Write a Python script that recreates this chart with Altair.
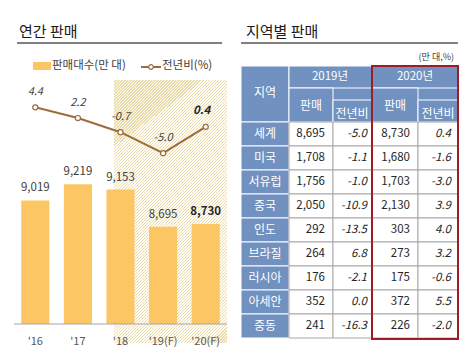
import altair as alt
import pandas as pd

# ---------------- data ----------------
years = ["'16", "'17", "'18", "'19(F)", "'20(F)"]
sales = [9019, 9219, 9153, 8695, 8730]
growth = [4.4, 2.2, -0.7, -5.0, 0.4]

regions = ["세계", "미국", "서유럽", "중국", "인도", "브라질", "러시아", "아세안", "중동"]
sales_2019 = [8695, 1708, 1756, 2050, 292, 264, 176, 352, 241]
yoy_2019 = [-5.0, -1.1, -1.0, -10.9, -13.5, 6.8, -2.1, 0.0, -16.3]
sales_2020 = [8730, 1680, 1703, 2130, 303, 273, 175, 372, 226]
yoy_2020 = [0.4, -1.6, -3.0, 3.9, 4.0, 3.2, -0.6, 5.5, -2.0]

# ---------------- style ----------------
FONT = "Noto Sans CJK KR"
BAR = "#fdc664"
LINE = "#9c6c3a"
BLUE = "#7191c0"
RED = "#9e1c26"
GRID = "#a9a9a9"
TXT = "#404040"

one = pd.DataFrame({"k": [0]})
bdf = pd.DataFrame({"year": years, "sales": sales, "growth": growth})
tdf = pd.DataFrame({"region": regions, "s19": sales_2019, "y19": yoy_2019,
                    "s20": sales_2020, "y20": yoy_2020})

xs = alt.Scale(domain=years, range=[14, 227], paddingInner=0.34, paddingOuter=0.17)
ys = alt.Scale(domain=[7500, 10500], range=[324, 80], zero=False, nice=False)
gs = alt.Scale(domain=[-40, 10], range=[324, 80], zero=False, nice=False)
ts = alt.Scale(domain=regions, range=[122, 338], paddingInner=0, paddingOuter=0)


def hy(expr):
    # d3-format uses U+2212 for minus; the reference uses a plain hyphen
    return f"replace({expr}, '\u2212', '-')"


def txt(s, x, y, size=11, color=TXT, align="left", weight="normal", style="normal"):
    return alt.Chart(pd.DataFrame({"t": [s]})).mark_text(
        align=align, baseline="middle", fontSize=size, font=FONT, color=color,
        fontWeight=weight, fontStyle=style
    ).encode(text="t:N", x=alt.value(x), y=alt.value(y))


def box(x, y, x2, y2, fill, stroke=None, sw=1.0, fo=1.0):
    kw = dict(fill=fill, fillOpacity=fo)
    if stroke:
        kw.update(stroke=stroke, strokeWidth=sw)
    return alt.Chart(one).mark_rect(**kw).encode(
        x=alt.value(x), x2=alt.value(x2), y=alt.value(y), y2=alt.value(y2))


def hrule(x, x2, y, color, sw):
    return alt.Chart(one).mark_rule(color=color, strokeWidth=sw).encode(
        x=alt.value(x), x2=alt.value(x2), y=alt.value(y))


# hatch gradient (fine diagonal stripes)
N = 125
BG_H = "#fffdf7"
LN_H = "#ebdcae"
stops = []
for i in range(N):
    a = i / N
    b = (i + 0.6) / N
    c = (i + 1) / N
    stops += [alt.GradientStop(offset=a, color=BG_H),
              alt.GradientStop(offset=b, color=BG_H),
              alt.GradientStop(offset=b, color=LN_H),
              alt.GradientStop(offset=c, color=LN_H)]
hatch_fill = alt.LinearGradient(gradient="linear", stops=stops,
                                x1=0, y1=0, x2=0.519, y2=1.207)

layers = []

# ---------- left: annual sales ----------
layers.append(txt("연간 판매", 19, 32, size=15, color="#1a1a1a"))
layers.append(hrule(17, 222, 43, "#808080", 2))
layers.append(box(33, 62, 51, 70, BAR))
layers.append(txt("판매대수(만 대)", 52, 66, size=11.5))
layers.append(hrule(141, 161, 67, LINE, 2))
layers.append(alt.Chart(one).mark_point(shape="circle", filled=True, fill="white",
                                        stroke=LINE, strokeWidth=1.2, size=22, opacity=1)
              .encode(x=alt.value(151), y=alt.value(67)))
layers.append(txt("전년비(%)", 162, 66, size=11.5))

layers.append(alt.Chart(one).mark_rect(fill=hatch_fill).encode(
    x=alt.value(114), x2=alt.value(227), y=alt.value(80), y2=alt.value(343)))

bx = alt.X("year:N", scale=xs, axis=None, sort=years)
layers.append(alt.Chart(bdf).mark_bar(color=BAR).encode(
    x=bx, y=alt.Y("sales:Q", scale=ys, axis=None), y2=alt.datum(7500)))
layers.append(hrule(14, 227, 324, "#a6a6a6", 1))

layers.append(alt.Chart(bdf).transform_filter("datum.year != \"'20(F)\"").mark_text(
    baseline="middle", fontSize=11.5, font=FONT, color=TXT, dy=-12).encode(
    x=bx, y=alt.Y("sales:Q", scale=ys, axis=None), text=alt.Text("sales:Q", format=",")))
layers.append(alt.Chart(bdf).transform_filter("datum.year == \"'20(F)\"").mark_text(
    baseline="middle", fontSize=11.5, font=FONT, color="#262626", fontWeight="bold", dy=-12).encode(
    x=bx, y=alt.Y("sales:Q", scale=ys, axis=None), text=alt.Text("sales:Q", format=",")))

layers.append(alt.Chart(bdf).mark_text(baseline="middle", fontSize=11, font=FONT,
                                       color="#595959").encode(
    x=bx, y=alt.value(342), text="year:N"))

layers.append(alt.Chart(bdf).mark_line(color=LINE, strokeWidth=2).encode(
    x=bx, y=alt.Y("growth:Q", scale=gs, axis=None)))
layers.append(alt.Chart(bdf).mark_point(shape="circle", filled=True, fill="white",
                                        stroke=LINE, strokeWidth=1.2, size=26, opacity=1).encode(
    x=bx, y=alt.Y("growth:Q", scale=gs, axis=None)))
gl = alt.Chart(bdf).transform_calculate(lbl=hy("format(datum.growth, '.1f')"))
layers.append(gl.transform_filter("datum.year != \"'20(F)\"").mark_text(
    baseline="middle", fontSize=11, font=FONT, color=TXT, fontStyle="italic", dy=-15).encode(
    x=bx, y=alt.Y("growth:Q", scale=gs, axis=None), text="lbl:N"))
layers.append(gl.transform_filter("datum.year == \"'20(F)\"").mark_text(
    baseline="middle", fontSize=11.5, font=FONT, color="#262626", fontStyle="italic",
    fontWeight="bold", dy=-16, dx=-4).encode(
    x=bx, y=alt.Y("growth:Q", scale=gs, axis=None), text="lbl:N"))

# ---------- right: regional table ----------
layers.append(txt("지역별 판매", 246, 32, size=15, color="#1a1a1a"))
layers.append(hrule(241, 458, 43, "#808080", 2))
layers.append(txt("(만 대,%)", 454, 57, size=9, align="right"))

# header cells
layers.append(box(241, 66, 458, 122, BLUE))
layers.append(box(241, 66, 289, 122, BLUE, "white"))
layers.append(box(289, 66, 372, 88, BLUE, "white"))
layers.append(box(372, 66, 458, 88, BLUE, "white"))
layers.append(box(289, 88, 333, 122, BLUE, "white"))
layers.append(box(333, 100, 372, 122, BLUE, "white"))
layers.append(box(372, 88, 418, 122, BLUE, "white"))
layers.append(box(418, 100, 458, 122, BLUE, "white"))

layers.append(txt("지역", 265, 93, size=12, color="white", align="center"))
layers.append(txt("2019년", 330, 77, size=11.5, color="white", align="center"))
layers.append(txt("2020년", 415, 77, size=11.5, color="white", align="center"))
layers.append(txt("판매", 311, 106, size=12, color="white", align="center"))
layers.append(txt("전년비", 352, 114, size=12, color="white", align="center"))
layers.append(txt("판매", 395, 106, size=12, color="white", align="center"))
layers.append(txt("전년비", 438, 114, size=12, color="white", align="center"))

ry = alt.Y("region:N", scale=ts, axis=None, sort=regions)
layers.append(alt.Chart(tdf).mark_rect(fill=BLUE, stroke="white", strokeWidth=1).encode(
    y=ry, x=alt.value(241), x2=alt.value(289)))
for x0, x1 in [(289, 333), (333, 372), (372, 418), (418, 458)]:
    layers.append(alt.Chart(tdf).mark_rect(fill="white", stroke=GRID, strokeWidth=1).encode(
        y=ry, x=alt.value(x0), x2=alt.value(x1)))

layers.append(alt.Chart(tdf).mark_text(baseline="middle", fontSize=12, font=FONT,
                                       color="white").encode(
    y=ry, x=alt.value(265), text="region:N"))
for field, xr, italic, fmt in [("s19", 325, False, ","), ("y19", 367, True, ".1f"),
                               ("s20", 410, False, ","), ("y20", 451, True, ".1f")]:
    layers.append(alt.Chart(tdf).transform_calculate(
        lbl=hy(f"format(datum.{field}, '{fmt}')")
    ).mark_text(
        baseline="middle", align="right", fontSize=11.5, font=FONT, color="#262626",
        fontStyle="italic" if italic else "normal").encode(
        y=ry, x=alt.value(xr), text="lbl:N"))

layers.append(box(372, 66, 458, 339, "white", RED, 2, 0))

chart = alt.layer(*layers).resolve_scale(
    x="independent", y="independent"
).properties(
    width=473, height=357, autosize=alt.AutoSizeParams(type="none"), padding=0,
    background="white"
).configure_view(stroke=None)

chart.save("out.html", embed_options={"renderer": "svg", "actions": False})
